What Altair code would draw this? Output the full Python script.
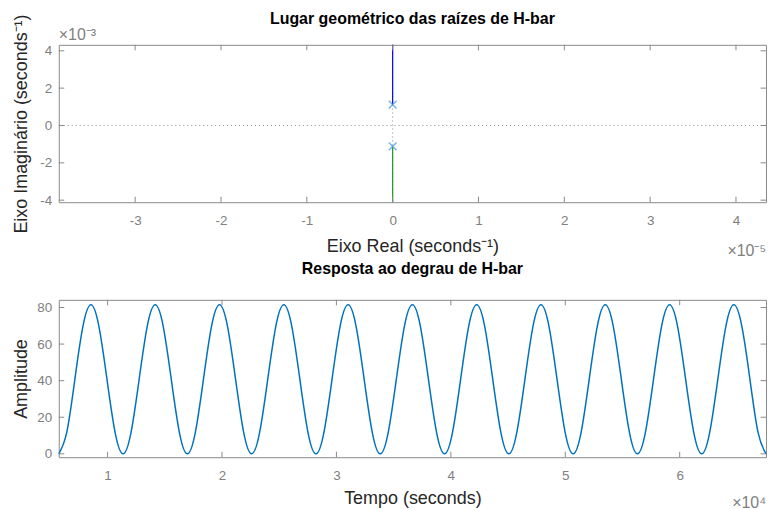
import altair as alt
import pandas as pd

FONT = "Liberation Sans"
FRAME = "#8a8a8a"

# ---------------- top panel: root locus ----------------
rl_title = ["Lugar geométrico das raízes de H-bar"]
pole_re = [0.0, 0.0]
pole_im = [1.12e-3, -1.12e-3]
branch1_re = [0.0, 0.0]
branch1_im = [1.12e-3, 6.0e-3]
branch2_re = [0.0, 0.0]
branch2_im = [-1.12e-3, -6.0e-3]
rl_xticks = [-3e-5, -2e-5, -1e-5, 0.0, 1e-5, 2e-5, 3e-5, 4e-5]
rl_yticks = [-4e-3, -2e-3, 0.0, 2e-3, 4e-3]
rl_xdomain = [-3.89e-5, 4.35e-5]
rl_ydomain = [-4.11e-3, 4.32e-3]
rl_xexp = ["×10⁻⁵"]
rl_yexp = ["×10⁻³"]

# ---------------- bottom panel: step response ----------------
st_title = ["Resposta ao degrau de H-bar"]
step_t = [
    5735, 6437, 7140, 7842, 8545, 9247, 9949, 10652,
    11354, 12056, 12759, 13461, 14164, 14866, 15568, 16271,
    16973, 17675, 18378, 19080, 19783, 20485, 21187, 21890,
    22592, 23294, 23997, 24699, 25402, 26104, 26806, 27509,
    28211, 28913, 29616, 30318, 31021, 31723, 32425, 33128,
    33830, 34532, 35235, 35937, 36640, 37342, 38044, 38747,
    39449, 40151, 40854, 41556, 42259, 42961, 43663, 44366,
    45068, 45770, 46473, 47175, 47878, 48580, 49282, 49985,
    50687, 51389, 52092, 52794, 53497, 54199, 54901, 55604,
    56306, 57008, 57711, 58413, 59116, 59818, 60520, 61223,
    61925, 62627, 63330, 64032, 64735, 65437, 66139, 66842,
    67544,
]
step_y = [
    0.0, 11.9, 40.75, 69.6, 81.5, 69.6, 40.75, 11.9,
    0.0, 11.9, 40.75, 69.6, 81.5, 69.6, 40.75, 11.9,
    0.0, 11.9, 40.75, 69.6, 81.5, 69.6, 40.75, 11.9,
    0.0, 11.9, 40.75, 69.6, 81.5, 69.6, 40.75, 11.9,
    0.0, 11.9, 40.75, 69.6, 81.5, 69.6, 40.75, 11.9,
    0.0, 11.9, 40.75, 69.6, 81.5, 69.6, 40.75, 11.9,
    0.0, 11.9, 40.75, 69.6, 81.5, 69.6, 40.75, 11.9,
    0.0, 11.9, 40.75, 69.6, 81.5, 69.6, 40.75, 11.9,
    0.0, 11.9, 40.75, 69.6, 81.5, 69.6, 40.75, 11.9,
    0.0, 11.9, 40.75, 69.6, 81.5, 69.6, 40.75, 11.9,
    0.0, 11.9, 40.75, 69.6, 81.5, 69.6, 40.75, 11.9,
    0.0,
]
st_xticks = [1e4, 2e4, 3e4, 4e4, 5e4, 6e4]
st_yticks = [0, 20, 40, 60, 80]
st_xdomain = [5735, 67544]
st_ydomain = [-1.86, 84.2]
st_xexp = ["×10⁴"]

W, H = 710, 158
TICK = 5.5


def inner_ticks(xvals, yvals, xs, ys, xaxis, yaxis):
    dx = pd.DataFrame({"v": xvals})
    dy = pd.DataFrame({"v": yvals})
    base_x = alt.Chart(dx).mark_rule(color=FRAME, strokeWidth=1)
    base_y = alt.Chart(dy).mark_rule(color=FRAME, strokeWidth=1)
    return [
        base_x.encode(x=alt.X("v:Q", scale=xs, axis=xaxis), y=alt.value(H), y2=alt.value(H - TICK)),
        base_x.encode(x=alt.X("v:Q", scale=xs, axis=xaxis), y=alt.value(0), y2=alt.value(TICK)),
        base_y.encode(y=alt.Y("v:Q", scale=ys, axis=yaxis), x=alt.value(0), x2=alt.value(TICK)),
        base_y.encode(y=alt.Y("v:Q", scale=ys, axis=yaxis), x=alt.value(W), x2=alt.value(W - TICK)),
    ]


def title_text(txt, dy):
    return alt.Chart(pd.DataFrame({"t": txt})).mark_text(
        align="center", baseline="alphabetic", font=FONT, fontSize=16,
        fontWeight="bold", color="#000000"
    ).encode(text="t:N", x=alt.value(W / 2), y=alt.value(dy))


def exp_text(txt, x, y, align):
    return alt.Chart(pd.DataFrame({"t": txt})).mark_text(
        align=align, baseline="alphabetic", font=FONT, fontSize=16, color="#808080"
    ).encode(text="t:N", x=alt.value(x), y=alt.value(y))


# ---- top chart ----
rl_xs = alt.Scale(domain=rl_xdomain, nice=False, zero=False)
rl_ys = alt.Scale(domain=rl_ydomain, nice=False, zero=False)

rl_xaxis = alt.Axis(values=rl_xticks, labelExpr="'' + round(datum.value * 1e5)",
                    title="Eixo Real (seconds⁻¹)", labelPadding=11, titlePadding=11,
                    minExtent=24, maxExtent=24, labelOverlap=False)
rl_yaxis = alt.Axis(values=rl_yticks, labelExpr="'' + round(datum.value * 1e3)",
                    title="Eixo Imaginário (seconds⁻¹)", labelPadding=7, titlePadding=6,
                    minExtent=22, maxExtent=22, labelOverlap=False)

poles = pd.DataFrame({"re": pole_re, "im": pole_im})
b1 = pd.DataFrame({"re": branch1_re, "im": branch1_im})
b2 = pd.DataFrame({"re": branch2_re, "im": branch2_im})

XR = alt.X("re:Q", scale=rl_xs, axis=rl_xaxis)
YR = alt.Y("im:Q", scale=rl_ys, axis=rl_yaxis)

hline = alt.Chart(pd.DataFrame({"im": [0.0]})).mark_rule(
    color="#8c8c8c", strokeDash=[1, 3], strokeWidth=1
).encode(y=YR)
vline = alt.Chart(pd.DataFrame({"re": [0.0]})).mark_rule(
    color="#8c8c8c", strokeDash=[1, 3], strokeWidth=1
).encode(x=XR)
line1 = alt.Chart(b1).mark_line(color="#0000ff", strokeWidth=1.2, clip=True).encode(x=XR, y=YR)
line2 = alt.Chart(b2).mark_line(color="#1a9a1a", strokeWidth=1.2, clip=True).encode(x=XR, y=YR)
pmark = alt.Chart(poles).mark_point(
    shape="M-1,-1L1,1M-1,1L1,-1", filled=False, color="#3f97dd", size=60, strokeWidth=1.5
).encode(x=XR, y=YR)

top = alt.layer(
    hline, vline, line1, line2, pmark,
    *inner_ticks(rl_xticks, rl_yticks, rl_xs, rl_ys, rl_xaxis, rl_yaxis),
    exp_text(rl_yexp, 0, -5, "left"),
    exp_text(rl_xexp, W, 212, "right"),
    title_text(rl_title, -21),
).properties(width=W, height=H)

# ---- bottom chart ----
st_xs = alt.Scale(domain=st_xdomain, nice=False, zero=False)
st_ys = alt.Scale(domain=st_ydomain, nice=False, zero=False)
st_xaxis = alt.Axis(values=st_xticks, labelExpr="'' + round(datum.value / 1e4)",
                    title="Tempo (seconds)", labelPadding=11, titlePadding=8,
                    minExtent=24, maxExtent=24, labelOverlap=False)
st_yaxis = alt.Axis(values=st_yticks, labelExpr="'' + datum.value",
                    title="Amplitude", labelPadding=7, titlePadding=6,
                    minExtent=22, maxExtent=22, labelOverlap=False)

step = alt.Chart(pd.DataFrame({"t": step_t, "y": step_y})).mark_line(
    color="#0072bd", strokeWidth=1.5, interpolate="natural"
).encode(x=alt.X("t:Q", scale=st_xs, axis=st_xaxis), y=alt.Y("y:Q", scale=st_ys, axis=st_yaxis))

bottom = alt.layer(
    step,
    *inner_ticks(st_xticks, st_yticks, st_xs, st_ys, st_xaxis, st_yaxis),
    exp_text(st_xexp, W, 209, "right"),
    title_text(st_title, -25.5),
).properties(width=W, height=H)

chart = alt.vconcat(top, bottom, spacing=98, bounds="flush").properties(
    padding={"left": 12, "top": 9, "right": 0, "bottom": 0}
).configure_view(stroke=FRAME, strokeWidth=1).configure_axis(
    labelFont=FONT, titleFont=FONT, labelFontSize=13.5, titleFontSize=18,
    labelColor="#808080", titleColor="#262626", titleFontWeight="normal",
    grid=False, ticks=False, domain=False, tickSize=0, labelOverlap=False,
)

chart.save("out.html", embed_options={"renderer": "svg", "actions": False})
